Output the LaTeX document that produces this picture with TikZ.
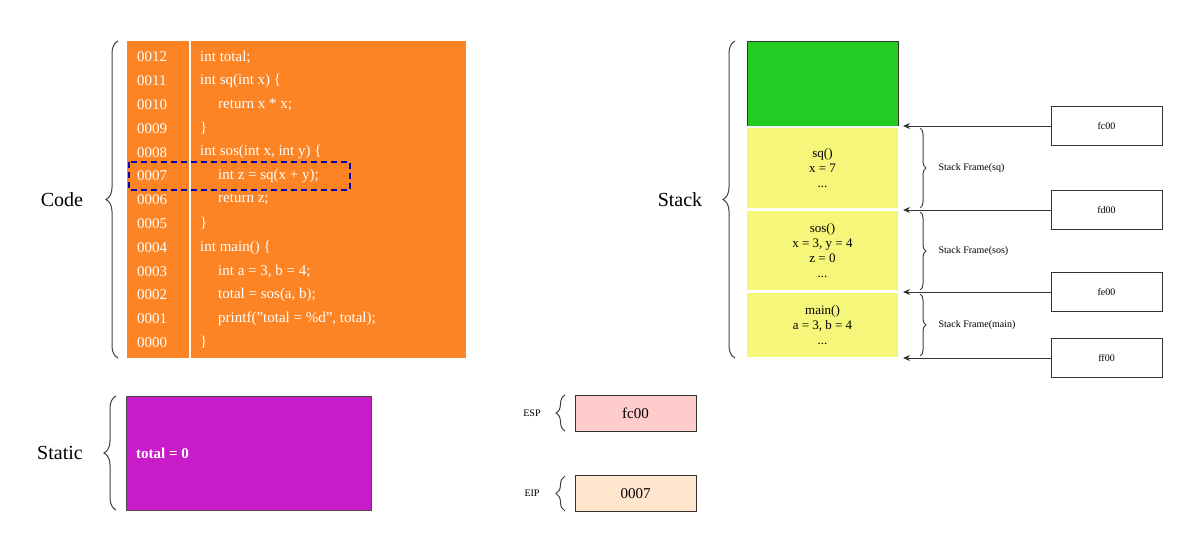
\documentclass[tikz,border=0pt]{standalone}
\usepackage{fontspec}
\setmainfont{Liberation Serif}
\usetikzlibrary{decorations.pathreplacing,arrows.meta}
\definecolor{codeor}{HTML}{FD8424}
\definecolor{stat}{HTML}{C81CC8}
\definecolor{grn}{HTML}{22CC22}
\definecolor{yel}{HTML}{F6F77A}
\definecolor{pinkb}{HTML}{FFCCCC}
\definecolor{peach}{HTML}{FFE6CC}
\newcommand{\cl}[4]{\node[code] (n#1) at (137,57+#1*23.8) {#2};\node[code] (t#1) at (#4,57+#1*23.8) {#3};}
\begin{document}
\begin{tikzpicture}[x=1pt,y=-1pt,
  brc/.style={decorate,decoration={brace,amplitude=#1},draw=black!75,line width=1pt},
  brc/.default=12,
  big/.style={font=\fontsize{20}{22}\selectfont},
  code/.style={font=\fontsize{15}{17}\selectfont,text=white,anchor=west,inner sep=0},
  sm/.style={font=\fontsize{10}{12}\selectfont},
  addr/.style={draw=black!80,minimum width=111pt,minimum height=39pt,inner sep=0,font=\fontsize{10}{12}\selectfont},
  reg/.style={draw=black!80,minimum width=121pt,minimum height=36pt,inner sep=0,font=\fontsize{15}{17}\selectfont},
  fr/.style={fill=yel,align=center,font=\fontsize{13}{15}\selectfont,inner sep=0}]
\useasboundingbox (0,0) rectangle (1200,549);
% Code
\fill[codeor] (127,41) rectangle (466,358);
\draw[white,line width=1.5pt] (190,41) -- (190,358);
\cl{0}{0012}{int total;}{200}
\cl{1}{0011}{int sq(int x) \textbraceleft}{200}
\cl{2}{0010}{return x * x;}{218}
\cl{3}{0009}{\textbraceright}{200}
\cl{4}{0008}{int sos(int x, int y) \textbraceleft}{200}
\cl{5}{0007}{int z = sq(x + y);}{218}
\cl{6}{0006}{return z;}{218}
\cl{7}{0005}{\textbraceright}{200}
\cl{8}{0004}{int main() \textbraceleft}{200}
\cl{9}{0003}{int a = 3, b = 4;}{218}
\cl{10}{0002}{total = sos(a, b);}{218}
\cl{11}{0001}{printf("total = \%d", total);}{218}
\cl{12}{0000}{\textbraceright}{200}
\draw[blue!70!black,dashed,line width=2pt,dash pattern=on 6pt off 4pt] (129,162) rectangle (350,190);
\draw[brc] (118,358) -- (118,41);
\node[big] (code) at (62,200) {Code};
% Static
\node[fill=stat,draw=black!70,minimum width=245pt,minimum height=114pt,inner sep=0] (static) at (248.5,453) {};
\node[font=\fontsize{15}{17}\selectfont\bfseries,text=white,anchor=west,inner sep=0] (tot) at (136,453) {total = 0};
\draw[brc] (116,510) -- (116,396);
\node[big] (stl) at (60,453) {Static};
% Stack
\fill[grn] (747,41) rectangle (898,126);
\draw[black!80] (747,126) -- (747,41) -- (898,41) -- (898,126);
\node[fr,minimum width=151pt,minimum height=80pt] (sq) at (822.5,168) {sq()\\x = 7\\...};
\node[fr,minimum width=151pt,minimum height=79pt] (sos) at (822.5,250.5) {sos()\\x = 3, y = 4\\z = 0\\...};
\node[fr,minimum width=151pt,minimum height=64pt] (mn) at (822.5,325) {main()\\a = 3, b = 4\\...};
\draw[brc] (735,358) -- (735,41);
\node[big] (stk) at (680,200) {Stack};
\foreach \nm/\y in {fc00/126,fd00/210,fe00/292,ff00/358}{
  \node[addr] (a\nm) at (1106.5,\y) {\nm};
  \coordinate (p\nm) at (903,\y);
  \draw[-{Stealth[length=7pt,width=6pt]},black!80,line width=1pt] (a\nm.west) -- (p\nm);
}
\draw[brc=6] (920,128) -- (920,208);
\node[sm,anchor=west] (f1) at (935,168) {Stack Frame(sq)};
\draw[brc=6] (920,212) -- (920,290);
\node[sm,anchor=west] (f2) at (935,251) {Stack Frame(sos)};
\draw[brc=6] (920,294) -- (920,356);
\node[sm,anchor=west] (f3) at (935,325) {Stack Frame(main)};
% registers
\node[reg,fill=pinkb] (esp) at (635.5,413) {fc00};
\draw[brc=9] (565,431) -- (565,395);
\node[sm] (espl) at (532,413) {ESP};
\node[reg,fill=peach] (eip) at (635.5,493.5) {0007};
\draw[brc=9] (565,511) -- (565,476);
\node[sm] (eipl) at (532,493) {EIP};
\end{tikzpicture}
\end{document}
